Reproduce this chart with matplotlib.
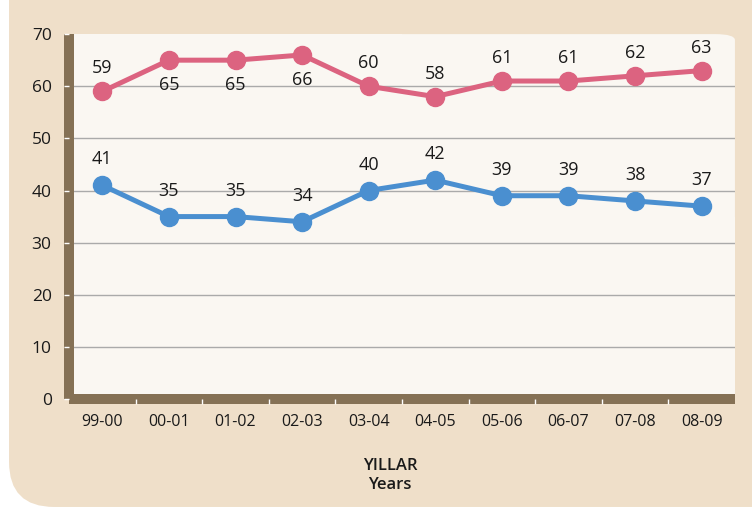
import numpy as np
import matplotlib.pyplot as plt
from matplotlib.patches import FancyBboxPatch, Rectangle

plt.rcParams['font.family'] = ['Open Sans', 'DejaVu Sans']

years = ["99-00", "00-01", "01-02", "02-03", "03-04", "04-05",
         "05-06", "06-07", "07-08", "08-09"]
pink_vals = [59, 65, 65, 66, 60, 58, 61, 61, 62, 63]
blue_vals = [41, 35, 35, 34, 40, 42, 39, 39, 38, 37]
pink_below = [False, True, True, True, False, False, False, False, False, False]

BG = "#efdfc9"
PLOT_BG = "#faf7f2"
BROWN = "#857155"
PINK = "#dc6380"
BLUE = "#4a8fd0"
TXT = "#1a1a1a"

fig = plt.figure(figsize=(7.52, 5.09), dpi=100)
fig.patch.set_facecolor("white")
fig.patches.append(FancyBboxPatch((0.012, 0.004), 1.2, 1.2, boxstyle="round,pad=0,rounding_size=0.06",
                                  transform=fig.transFigure, facecolor=BG, edgecolor="none",
                                  mutation_aspect=752 / 509, zorder=-5))

ax = fig.add_axes([0.0918, 0.216, 0.8855, 0.717])
ax.patch.set_visible(False)
# plot area with rounded top-right corner
ax.add_patch(FancyBboxPatch((0, 0), 1, 1, boxstyle="round,pad=0,rounding_size=0.03",
                            transform=ax.transAxes, facecolor=PLOT_BG, edgecolor="none",
                            mutation_aspect=0.717 * 509 / (0.8855 * 752), zorder=0))
ax.add_patch(Rectangle((0, 0), 0.5, 1, transform=ax.transAxes, facecolor=PLOT_BG,
                       edgecolor="none", zorder=0))
ax.add_patch(Rectangle((0, 0), 1, 0.5, transform=ax.transAxes, facecolor=PLOT_BG,
                       edgecolor="none", zorder=0))

x = np.arange(len(years))

ax.plot(x, pink_vals, color=PINK, lw=3.6, marker="o", ms=13, zorder=3)
ax.plot(x, blue_vals, color=BLUE, lw=3.6, marker="o", ms=13, zorder=3)

for xi, v, below in zip(x, pink_vals, pink_below):
    off = -25 if below else 23
    ax.annotate(str(v), (xi, v), xytext=(0, off), textcoords="offset pixels",
                ha="center", va="center", fontsize=13, color=TXT)
for xi, v in zip(x, blue_vals):
    ax.annotate(str(v), (xi, v), xytext=(0, 26), textcoords="offset pixels",
                ha="center", va="center", fontsize=13, color=TXT)

ax.set_xlim(-0.5, len(years) - 0.5)
ax.set_ylim(0, 70)
ax.set_yticks(range(0, 80, 10))
ax.set_yticklabels([str(v) for v in range(0, 80, 10)], fontsize=12.5, color=TXT)
for yv in range(10, 70, 10):
    ax.axhline(yv, color="#aaaaaa", lw=1, zorder=1)

ax.set_xticks(x)
ax.set_xticklabels(years, fontsize=11.5, color=TXT)
ax.set_xticks(np.arange(0.5, len(years) - 1, 1), minor=True)
ax.tick_params(axis="x", which="major", length=0, pad=11)
ax.tick_params(axis="x", which="minor", length=3.5, width=1, color="white", direction="out")
ax.tick_params(axis="y", length=3.5, width=1, color="white", direction="out", pad=9)

for side in ["top", "right"]:
    ax.spines[side].set_visible(False)
for side in ["left", "bottom"]:
    ax.spines[side].set_color(BROWN)
    ax.spines[side].set_linewidth(7.2)
    ax.spines[side].set_capstyle("butt")
    ax.spines[side].set_zorder(1.2)

fig.text(0.519, 0.066, "YILLAR\nYears", ha="center", va="center", fontsize=12,
         fontweight="semibold", color=TXT, linespacing=1.2)

fig.savefig("out.png", dpi=100, facecolor=fig.get_facecolor())
